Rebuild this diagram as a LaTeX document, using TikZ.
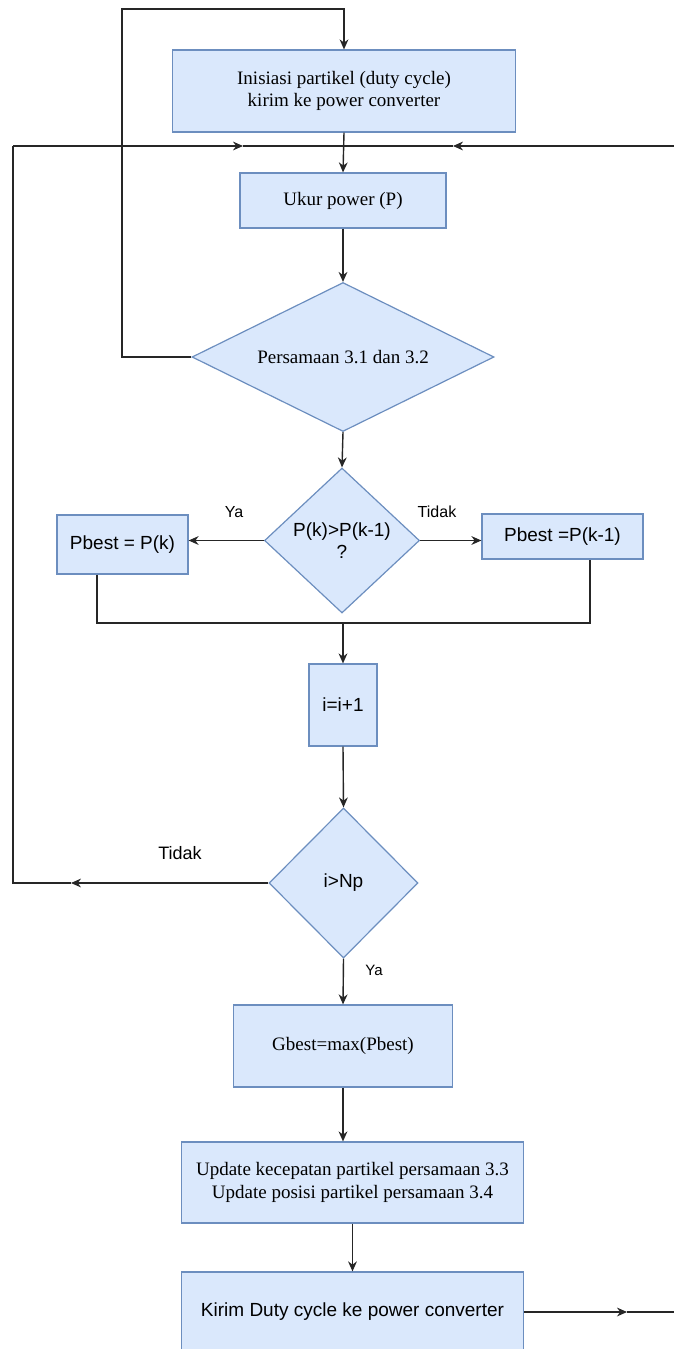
\documentclass[tikz,border=0pt]{standalone}
\usepackage{fontspec}
\setmainfont{Liberation Serif}
\newfontfamily\arialfont{Liberation Sans}
\usetikzlibrary{shapes.geometric,arrows.meta}

\definecolor{boxfill}{HTML}{DAE8FC}
\definecolor{boxline}{HTML}{6C8EBF}

\tikzset{
  proc/.style={draw=boxline, fill=boxfill, line width=0.6pt, inner sep=0pt, align=center, font=\fontsize{9.5}{11.3}\selectfont},
  procsans/.style={proc, font=\arialfont\fontsize{9.5}{11.3}\selectfont},
  dec/.style={diamond, draw=boxline, fill=boxfill, line width=0.6pt, inner sep=0pt, align=center, font=\fontsize{9.5}{11.3}\selectfont},
  decsans/.style={dec, font=\arialfont\fontsize{9.5}{11.3}\selectfont},
  flow/.style={line width=0.7pt, draw=black!85},
  arr/.style={flow, -{Stealth[length=5pt,width=4.4pt,inset=1.6pt]}},
  lbl/.style={inner sep=0pt, font=\arialfont\fontsize{8}{9.5}\selectfont}
}

\begin{document}
\begin{tikzpicture}[x=0.5pt,y=0.5pt,yscale=-1,xscale=1]
\useasboundingbox (0,0) rectangle (674,1349);
\clip (0,0) rectangle (674,1349);

%Shape: Rectangle
\node[proc, minimum width=171.5pt, minimum height=41pt] (init) at (344,91) {Inisiasi partikel (duty cycle)\\kirim ke power converter};
%Shape: Rectangle
\node[proc, minimum width=103pt, minimum height=27.5pt] (ukur) at (343,200.5) {Ukur power (P)};
%Shape: Diamond
\node[dec, shape aspect=2, minimum width=151pt, minimum height=74.5pt] (pers) at (343,357) {Persamaan 3.1 dan 3.2};
%Shape: Diamond
\node[decsans, minimum width=77.5pt, minimum height=72.5pt] (cek) at (342,540.5) {P(k)>P(k-1)\\?};
%Shape: Rectangle
\node[procsans, minimum width=65.5pt, minimum height=29.5pt] (pbk) at (122.5,544.5) {Pbest = P(k)};
%Shape: Rectangle
\node[procsans, minimum width=80.5pt, minimum height=22.5pt] (pbk1) at (562.5,536.5) {Pbest =P(k-1)};
%Shape: Rectangle
\node[procsans, minimum width=34pt, minimum height=41pt] (inc) at (343,705) {i=i+1};
%Shape: Diamond
\node[decsans, minimum width=74.5pt, minimum height=75pt] (cekNp) at (343.5,883) {i>Np};
%Shape: Rectangle
\node[proc, minimum width=109.5pt, minimum height=41pt] (gbest) at (343,1046) {Gbest=max(Pbest)};
%Shape: Rectangle
\node[proc, minimum width=171pt, minimum height=40.5pt] (upd) at (352.5,1182.5) {Update kecepatan partikel persamaan 3.3\\Update posisi partikel persamaan 3.4};
%Shape: Rectangle
\node[procsans, minimum width=171pt, minimum height=40pt] (kirim) at (352.5,1312) {Kirim Duty cycle ke power converter};

%Straight Lines
\draw[arr] (init.south) -- (ukur.north);
%Straight Lines
\draw[arr] (ukur.south) -- (pers.north);
%Straight Lines
\draw[arr] (pers.south) -- (cek.north);
%Straight Lines
\draw[arr] (pers.west) -| (122,9) -| (init.north);
%Straight Lines
\draw[arr] (cek.west) -- (pbk.east |- cek.west);
%Straight Lines
\draw[arr] (cek.east) -- (pbk1.west |- cek.east);
%Straight Lines
\draw[flow] (97,0 |- pbk.south) |- (590,623) -- (590,0 |- pbk1.south);
\draw[arr] (inc.north |- 0,623) -- (inc.north);
%Straight Lines
\draw[arr] (inc.south) -- (cekNp.north);
%Straight Lines
\draw[arr] (cekNp.south) -- (gbest.north);
%Straight Lines
\draw[arr] (gbest.south) -- (upd.north -| gbest.south);
%Straight Lines
\draw[arr] (upd.south) -- (kirim.north);
%Straight Lines
\draw[arr] (cekNp.west) -- (71,883);
\draw[flow] (71,883) -| (13,146);
\draw[arr] (13,146) -- (243,146);
\draw[flow] (243,146) -- (343,146);
%Straight Lines
\draw[arr] (kirim.east) -- (627,1312);
\draw[flow] (627,1312) -- (674,1312);
\draw[arr] (674,146) -- (453,146);
\draw[flow] (453,146) -- (343,146);

% Text Node
\node[lbl] (ya1) at (234,512) {Ya};
% Text Node
\node[lbl] (tidak1) at (437,512) {Tidak};
% Text Node
\node[lbl, font=\arialfont\fontsize{9}{11}\selectfont] (tidak2) at (180,853) {Tidak};
% Text Node
\node[lbl, font=\arialfont\fontsize{7.5}{9}\selectfont] (ya2) at (374,970) {Ya};

\end{tikzpicture}
\end{document}
